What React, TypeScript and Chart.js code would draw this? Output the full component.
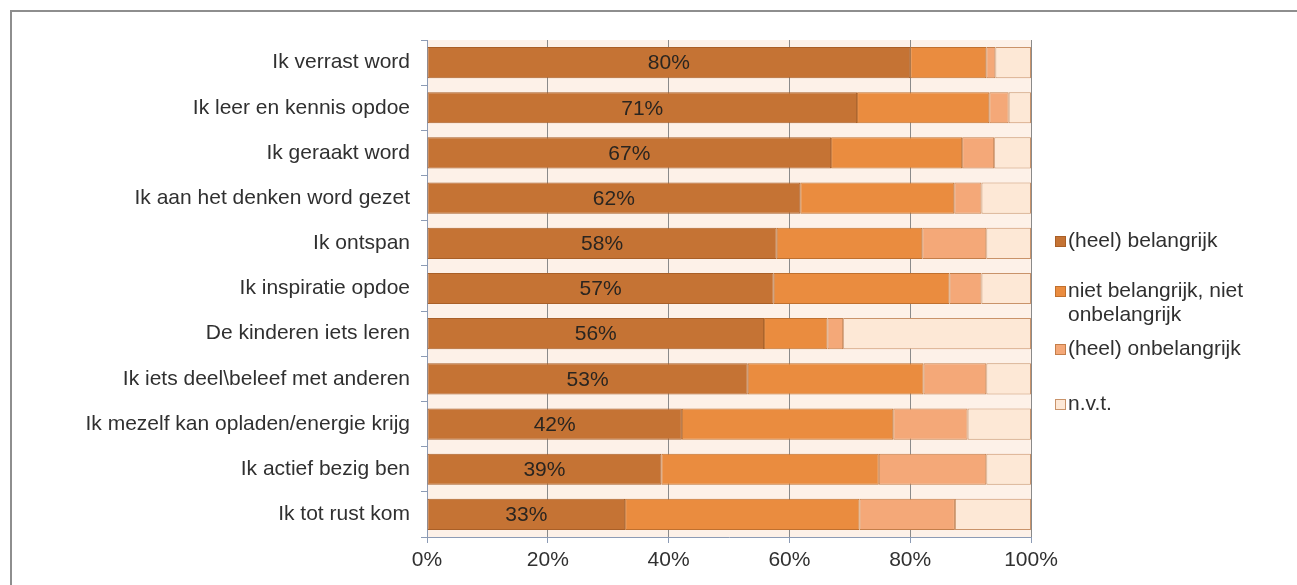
import React, { useEffect, useRef } from "react";
import { Chart, registerables } from "chart.js";

Chart.register(...registerables);

const categories = [
  "Ik verrast word",
  "Ik leer en kennis opdoe",
  "Ik geraakt word",
  "Ik aan het denken word gezet",
  "Ik ontspan",
  "Ik inspiratie opdoe",
  "De kinderen iets leren",
  "Ik iets deel\\beleef met anderen",
  "Ik mezelf kan opladen/energie krijg",
  "Ik actief bezig ben",
  "Ik tot rust kom",
];

const belangrijk = [80.0, 71.2, 66.9, 61.8, 57.9, 57.4, 55.8, 53.1, 42.2, 38.8, 32.8];
const neutraal = [12.6, 21.9, 21.7, 25.5, 24.1, 29.1, 10.5, 29.1, 35.0, 36.0, 38.8];
const onbelangrijk = [1.5, 3.2, 5.3, 4.5, 10.6, 5.3, 2.6, 10.4, 12.3, 17.8, 15.8];
const nvt = [5.9, 3.7, 6.1, 8.2, 7.4, 8.2, 31.1, 7.4, 10.5, 7.4, 12.6];

const seriesNames = [
  "(heel) belangrijk",
  "niet belangrijk, niet onbelangrijk",
  "(heel) onbelangrijk",
  "n.v.t.",
];
const seriesColors = ["#C57334", "#EA8C3F", "#F4A878", "#FDE8D6"];
const seriesBorders = ["#A95F27", "#C0702E", "#C47E4A", "#C9936A"];

const xTicks = [0, 20, 40, 60, 80, 100];

const FONT = "'Liberation Sans', Arial, sans-serif";
const TEXT = "#303030";
const AXIS = "#8C9BB5";

const framePlugin = {
  id: "frameAndBg",
  beforeDraw(chart: any) {
    const { ctx, chartArea } = chart;
    ctx.save();
    ctx.fillStyle = "#ffffff";
    ctx.fillRect(0, 0, chart.width, chart.height);
    ctx.strokeStyle = "#8e8e8e";
    ctx.lineWidth = 2;
    ctx.beginPath();
    ctx.moveTo(chart.width, 11);
    ctx.lineTo(11, 11);
    ctx.lineTo(11, chart.height);
    ctx.stroke();
    ctx.fillStyle = "#FDF1E8";
    ctx.fillRect(
      chartArea.left,
      chartArea.top,
      chartArea.right - chartArea.left,
      chartArea.bottom - chartArea.top
    );
    ctx.restore();
  },
};

const labelPlugin = {
  id: "barLabels",
  afterDatasetsDraw(chart: any) {
    const { ctx } = chart;
    const meta = chart.getDatasetMeta(0);
    const data = chart.data.datasets[0].data as number[];
    ctx.save();
    ctx.font = `21px ${FONT}`;
    ctx.fillStyle = "#2a2520";
    ctx.textAlign = "center";
    ctx.textBaseline = "middle";
    meta.data.forEach((el: any, i: number) => {
      const cx = (el.x + el.base) / 2;
      ctx.fillText(Math.round(data[i]) + "%", cx, el.y + 1);
    });
    ctx.restore();
  },
};

const legendPlugin = {
  id: "customLegend",
  afterDraw(chart: any) {
    const { ctx, chartArea } = chart;
    const boxX = chartArea.right + 24;
    const textX = boxX + 13;
    const maxW = chart.width - textX - 20;
    const offsets = [201, 251, 309, 364];
    const lineH = 24;
    ctx.save();
    ctx.font = `21px ${FONT}`;
    ctx.textBaseline = "middle";
    ctx.textAlign = "left";
    chart.data.datasets.forEach((ds: any, i: number) => {
      const words = String(ds.label).split(" ");
      const lines: string[] = [];
      let cur = "";
      words.forEach((w) => {
        const test = cur ? cur + " " + w : w;
        if (ctx.measureText(test).width > maxW && cur) {
          lines.push(cur);
          cur = w;
        } else cur = test;
      });
      if (cur) lines.push(cur);
      const y0 = chartArea.top + offsets[i];
      ctx.fillStyle = ds.backgroundColor;
      ctx.fillRect(boxX, y0 - 5, 11, 11);
      ctx.strokeStyle = ds.borderColor;
      ctx.lineWidth = 1;
      ctx.strokeRect(boxX + 0.5, y0 - 4.5, 10, 10);
      ctx.fillStyle = TEXT;
      lines.forEach((ln, j) => ctx.fillText(ln, textX, y0 + j * lineH));
    });
    ctx.restore();
  },
};

export default function App() {
  const ref = useRef<HTMLCanvasElement | null>(null);

  useEffect(() => {
    document.body.style.margin = "0";
    if (!ref.current) return;
    const seriesData = [belangrijk, neutraal, onbelangrijk, nvt];
    const chart = new Chart(ref.current, {
      type: "bar",
      data: {
        labels: categories,
        datasets: seriesNames.map((name, i) => ({
          label: name,
          data: seriesData[i],
          backgroundColor: seriesColors[i],
          borderColor: seriesBorders[i],
          borderWidth: 1,
          borderSkipped: false,
          categoryPercentage: 1,
          barPercentage: 0.69,
        })),
      },
      options: {
        indexAxis: "y",
        responsive: false,
        devicePixelRatio: 1,
        animation: false,
        layout: { padding: { top: 40, right: 266, left: 0, bottom: 0 } },
        plugins: {
          legend: { display: false },
          tooltip: { enabled: false },
        },
        scales: {
          x: {
            stacked: true,
            min: 0,
            max: 100,
            afterBuildTicks: (scale: any) => {
              scale.ticks = xTicks.map((v) => ({ value: v }));
            },
            afterFit: (scale: any) => {
              scale.height = 48;
            },
            ticks: {
              callback: (v: any) => v + "%",
              color: TEXT,
              font: { family: FONT, size: 21 },
              padding: 5,
              maxRotation: 0,
            },
            grid: {
              color: "#8a8a8a",
              tickColor: AXIS,
              tickLength: 6,
              lineWidth: 1,
            },
            border: { color: AXIS, width: 1 },
          },
          y: {
            stacked: true,
            afterFit: (scale: any) => {
              scale.width = 427;
            },
            ticks: {
              color: TEXT,
              font: { family: FONT, size: 21 },
              padding: 11,
              autoSkip: false,
            },
            grid: {
              offset: true,
              drawOnChartArea: false,
              tickColor: AXIS,
              tickLength: 6,
            },
            border: { color: AXIS, width: 1 },
          },
        },
      },
      plugins: [framePlugin, labelPlugin, legendPlugin],
    });
    return () => chart.destroy();
  }, []);

  return (
    <div style={{ position: "fixed", left: 0, top: 0, width: 1297, height: 585 }}>
      <canvas ref={ref} width={1297} height={585} />
    </div>
  );
}
